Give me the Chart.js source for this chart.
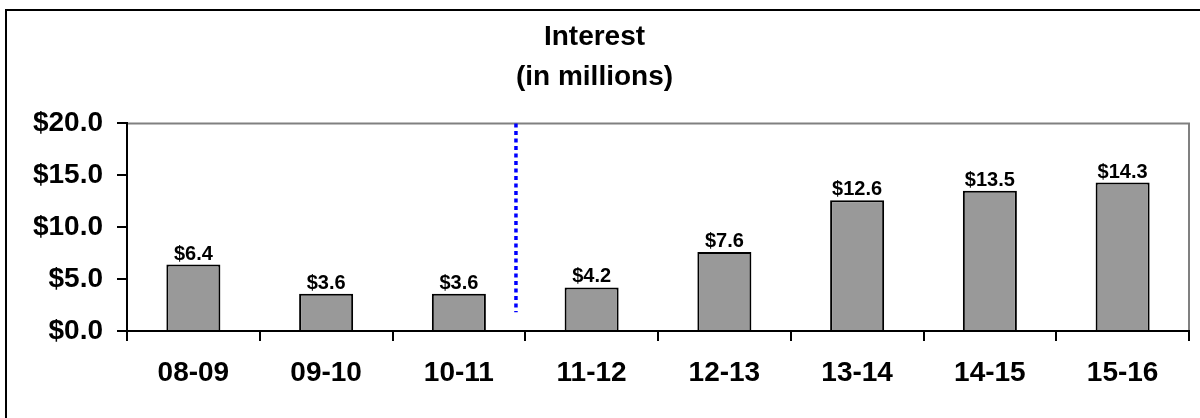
<!DOCTYPE html>
<html>
<head>
<meta charset="utf-8">
<script src="https://cdn.jsdelivr.net/npm/chart.js@4/dist/chart.umd.min.js"></script>
<style>
  html, body { margin: 0; padding: 0; background: #ffffff; }
  #wrap { position: relative; width: 1200px; height: 418px; }
</style>
</head>
<body>
<div id="wrap"><canvas id="c"></canvas></div>
<script>
// ---- data ----
const titleLines = ["Interest", "(in millions)"];
const categories = ["08-09", "09-10", "10-11", "11-12", "12-13", "13-14", "14-15", "15-16"];
const interest = [6.4, 3.6, 3.6, 4.2, 7.6, 12.6, 13.5, 14.3];
const yTicks = [0, 5, 10, 15, 20];
// dotted divider between actual and projected years (category units, value units)
const dividerX = [2.43, 2.43];
const dividerY = [20, 1.8];

const FONT = "'Liberation Sans', Arial, Helvetica, sans-serif";

const frameAndLabels = {
  id: 'frameAndLabels',
  beforeDraw(chart) {
    const ctx = chart.ctx;
    ctx.save();
    ctx.strokeStyle = '#000000';
    ctx.lineWidth = 2;
    ctx.strokeRect(6, 10, chart.width + 10, chart.height + 10);
    ctx.restore();
  },
  beforeDatasetsDraw(chart) {
    const a = chart.chartArea;
    const ctx = chart.ctx;
    ctx.save();
    ctx.strokeStyle = '#808080';
    ctx.lineWidth = 2;
    ctx.beginPath();
    ctx.moveTo(a.left, a.top);
    ctx.lineTo(a.right, a.top);
    ctx.lineTo(a.right, a.bottom);
    ctx.stroke();
    ctx.restore();
  },
  afterDatasetsDraw(chart) {
    const ctx = chart.ctx;
    const xs = chart.scales.x, ys = chart.scales.y;
    // dotted divider
    ctx.save();
    ctx.strokeStyle = '#0000ff';
    ctx.lineWidth = 3.5;
    ctx.setLineDash([4, 3.5]);
    ctx.beginPath();
    ctx.moveTo(xs.getPixelForValue(dividerX[0]), ys.getPixelForValue(dividerY[0]));
    ctx.lineTo(xs.getPixelForValue(dividerX[1]), ys.getPixelForValue(dividerY[1]));
    ctx.stroke();
    ctx.restore();
    // value labels
    const meta = chart.getDatasetMeta(0);
    ctx.save();
    ctx.fillStyle = '#000000';
    ctx.font = 'bold 20px ' + FONT;
    ctx.textAlign = 'center';
    ctx.textBaseline = 'alphabetic';
    meta.data.forEach((bar, i) => {
      ctx.fillText('$' + interest[i].toFixed(1), bar.x, bar.y - 5);
    });
    ctx.restore();
  }
};

new Chart(document.getElementById('c'), {
  type: 'bar',
  data: {
    labels: categories,
    datasets: [
      {
        data: interest,
        backgroundColor: '#999999',
        borderColor: '#000000',
        borderWidth: 2,
        borderSkipped: 'bottom',
        categoryPercentage: 1,
        barPercentage: 0.407
      }
    ]
  },
  options: {
    responsive: true,
    maintainAspectRatio: false,
    animation: false,
    events: [],
    layout: { padding: { left: 0, right: 11, top: 0, bottom: 0 } },
    plugins: {
      legend: { display: false },
      tooltip: { enabled: false },
      title: {
        display: true,
        text: titleLines,
        color: '#000000',
        font: { family: FONT, size: 28, weight: 'bold', lineHeight: 1.4 },
        padding: { top: 18, bottom: 27 }
      }
    },
    scales: {
      x: {
        type: 'category',
        offset: true,
        grid: {
          offset: true,
          drawOnChartArea: false,
          drawTicks: true,
          tickLength: 10,
          color: '#000000',
          lineWidth: 2
        },
        border: { display: true, color: '#000000', width: 2, z: 1 },
        ticks: {
          color: '#000000',
          font: { family: FONT, size: 28, weight: 'bold' },
          padding: 15,
          maxRotation: 0,
          autoSkip: false
        },
        afterFit(scale) { scale.height = 87; }
      },
      y: {
        min: yTicks[0],
        max: yTicks[yTicks.length - 1],
        afterBuildTicks(scale) { scale.ticks = yTicks.map(v => ({ value: v })); },
        grid: {
          drawOnChartArea: false,
          drawTicks: true,
          tickLength: 10,
          color: '#000000',
          lineWidth: 2
        },
        border: { display: true, color: '#000000', width: 2, z: 1 },
        ticks: {
          color: '#000000',
          font: { family: FONT, size: 28, weight: 'bold' },
          padding: 14,
          callback: v => '$' + Number(v).toFixed(1)
        },
        afterFit(scale) { scale.width = 127; }
      }
    }
  },
  plugins: [frameAndLabels]
});
</script>
</body>
</html>
